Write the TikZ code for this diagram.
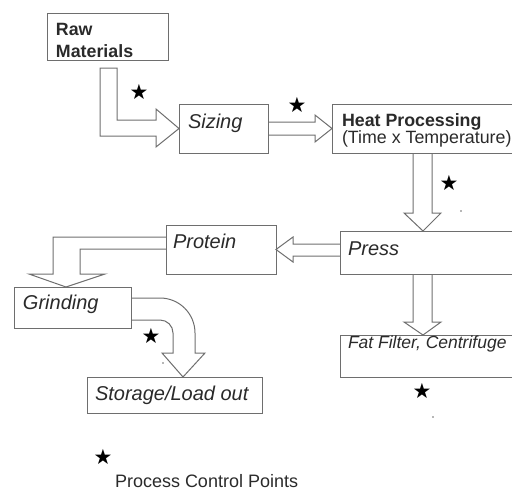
\documentclass[tikz,border=0pt]{standalone}
\usepackage{fontspec}
\setmainfont{Liberation Sans}
\newfontfamily\symfont{DejaVu Sans}
\usetikzlibrary{calc}
\definecolor{linegray}{HTML}{6E6E6E}
\definecolor{txt}{HTML}{2A2A2A}
\tikzset{
  box/.style={draw=linegray, line width=1pt, inner sep=0pt, outer sep=0pt},
  blk/.style={draw=linegray, line width=1pt, line join=miter},
  lbl/.style={inner sep=0pt, outer sep=0pt, anchor=base west, text=txt},
  itl/.style={lbl, font=\fontsize{20}{24}\selectfont\itshape},
  bld/.style={lbl, font=\fontsize{17.8}{22}\selectfont\bfseries},
  reg/.style={lbl, font=\fontsize{17.8}{22}\selectfont},
  star/.style={inner sep=0pt, font=\symfont\fontsize{21}{21}\selectfont},
  dot/.style={fill=linegray, draw=none}
}
\begin{document}
\begin{tikzpicture}[x=1pt, y=-1pt]
\useasboundingbox (0,0) rectangle (512,491);
% boxes
\node[box, minimum width=121pt, minimum height=47pt] (raw) at (107.5,36.5) {};
\node[box, minimum width=89pt, minimum height=49pt] (sizing) at (223.5,128.5) {};
\node[box, minimum width=188pt, minimum height=49pt] (heat) at (426,128.5) {};
\node[box, minimum width=180pt, minimum height=43pt] (press) at (430,252.5) {};
\node[box, minimum width=110pt, minimum height=49pt] (protein) at (221,249.5) {};
\node[box, minimum width=117pt, minimum height=41pt] (grinding) at (72.5,307.5) {};
\node[box, minimum width=175pt, minimum height=36pt] (storage) at (174.5,395) {};
\node[box, minimum width=180pt, minimum height=42pt] (fat) at (430,356) {};
% labels
\node[bld] (rawt) at (56,35) {Raw};
\node[bld] (rawt2) at (56,57) {Materials};
\node[itl] (sizingt) at (188,128) {Sizing};
\node[bld] (heatt) at (342,126) {Heat Processing};
\node[reg] (heatt2) at (342,143) {(Time x Temperature)};
\node[itl] (proteint) at (173,248) {Protein};
\node[itl] (presst) at (348,255) {Press};
\node[itl] (grindingt) at (23,309) {Grinding};
\node[itl] (storaget) at (95,400) {Storage/Load out};
\node[lbl, font=\fontsize{17.5}{22}\selectfont\itshape] (fatt) at (348,348) {Fat Filter, Centrifuge};
\node[lbl, font=\fontsize{18}{22}\selectfont] (legendt) at (115,487) {Process Control Points};
% block arrows
\draw[blk] ($(raw.south)+(-7.5,8)$) -- ++(17,0) -- (117,120) -- (156,120) -- (156,109)
  -- (sizing.west) -- (156,147) -- (156,136) -- (100,136) -- cycle;
\draw[blk] ($(sizing.east)+(0,-6.5)$) -- (315,122) -- (315,115) -- (heat.west)
  -- (315,142) -- (315,135) -- ($(sizing.east)+(0,6.5)$);
\draw[blk] (413,0 |- heat.south) -- (413,213) -- (404,213) -- (423,0 |- press.north)
  -- (441,213) -- (432,213) -- (432,0 |- heat.south);
\draw[blk] (press.west |- 0,244) -- (293,244) -- (293,237) -- (protein.east)
  -- (293,262) -- (293,256) -- (press.west |- 0,256);
\draw[blk] (protein.west |- 0,237) -- (53,237) -- (53,274) -- (29,274) -- (66,0 |- grinding.north)
  -- (105,274) -- (80,274) -- (80,249) -- (protein.west |- 0,249);
\draw[blk] (grinding.east |- 0,298) -- (160,298) arc[start angle=90, end angle=0, radius=35pt]
  -- (195,353) -- (205,353) -- (183,0 |- storage.north) -- (162,353) -- (173,353) -- (173,333)
  arc[start angle=0, end angle=90, radius=13pt] -- (grinding.east |- 0,320);
\draw[blk] (413,0 |- press.south) -- (413,322) -- (404,322) -- (423,0 |- fat.north)
  -- (441,322) -- (432,322) -- (432,0 |- press.south);
% stars
\node[star] (s1) at (139,92) {★};
\node[star] (s2) at (297,105) {★};
\node[star] (s3) at (449,183) {★};
\node[star] (s4) at (151,336) {★};
\node[star] (s5) at (422,391) {★};
\node[star] (s6) at (103,457) {★};
% specks
\fill[dot] (461,211) circle (0.8pt);
\fill[dot] (163,363) circle (0.8pt);
\fill[dot] (433,417) circle (0.8pt);
\end{tikzpicture}
\end{document}
